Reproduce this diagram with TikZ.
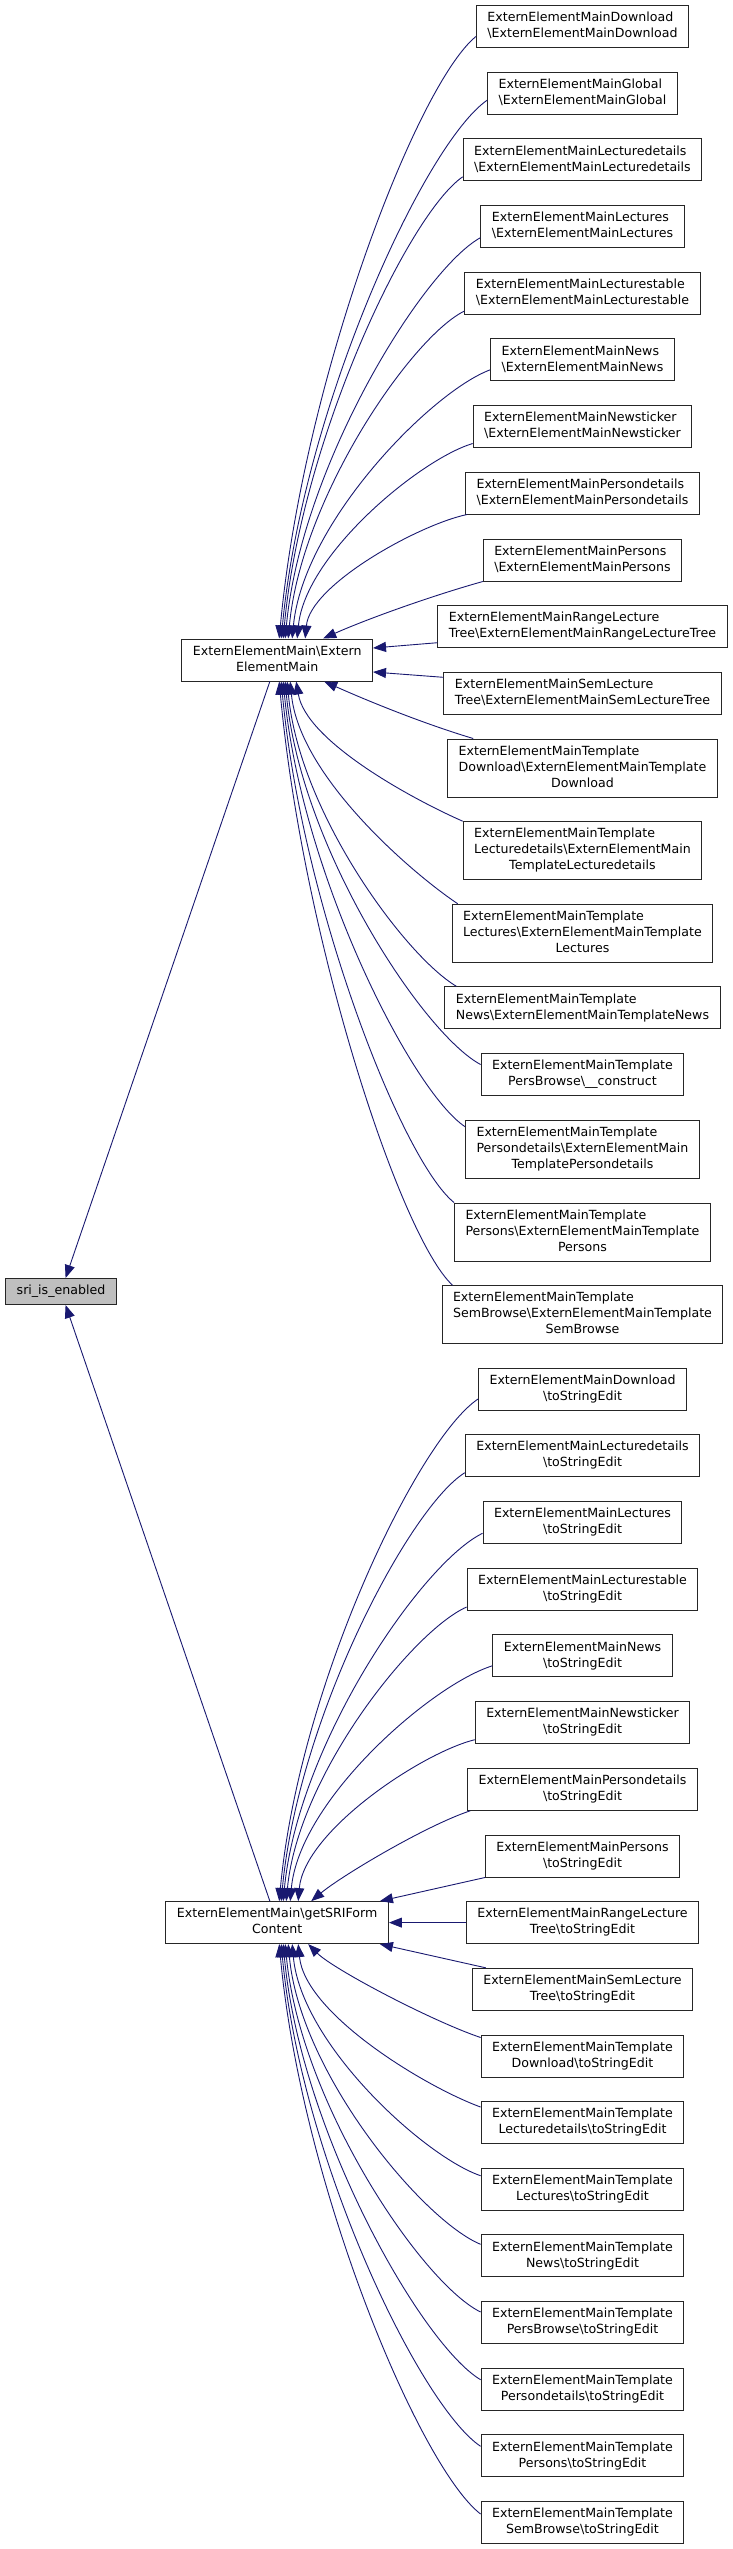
\documentclass[tikz,border=0pt]{standalone}
\usepackage{fontspec}
\setmainfont{DejaVu Sans}
\usepackage{xcolor}
\usepackage{tikz}
\usetikzlibrary{arrows.meta}
\definecolor{edgeblue}{RGB}{25,25,112}
\def\bs{\textbackslash}
\newcommand{\lbl}[2]{\begin{tabular}{@{}l@{}}#1\\\multicolumn{1}{@{}c@{}}{#2}\end{tabular}}

\begin{document}
\begin{tikzpicture}[x=1pt,y=1pt,
  box/.style={draw=black!85,line width=1pt,fill=white,inner xsep=11pt,inner ysep=5pt,font=\fontsize{12.6}{16}\selectfont},
  rootbox/.style={box,fill=black!25},
  edge/.style={edgeblue,line width=0.9pt,-{Triangle[length=13pt,width=10pt]}}]
\useasboundingbox (0,0) rectangle (733,-2549);
\node[rootbox] (sri) at (61,-1291.5) {sri\_is\_enabled\strut};
\node[box] (eem) at (277.2,-660) {\lbl{ExternElementMain\bs Extern}{ElementMain}};
\node[box] (gsri) at (277.2,-1922.6) {\lbl{ExternElementMain\bs getSRIForm}{Content}};

\node[box] (mDownload) at (582.5,-26.5) {\lbl{ExternElementMainDownload}{\bs ExternElementMainDownload}};
\node[box] (mGlobal) at (582.5,-93.2) {\lbl{ExternElementMainGlobal}{\bs ExternElementMainGlobal}};
\node[box] (mLecturedetails) at (582.5,-159.8) {\lbl{ExternElementMainLecturedetails}{\bs ExternElementMainLecturedetails}};
\node[box] (mLectures) at (582.5,-226.7) {\lbl{ExternElementMainLectures}{\bs ExternElementMainLectures}};
\node[box] (mLecturestable) at (582.5,-293) {\lbl{ExternElementMainLecturestable}{\bs ExternElementMainLecturestable}};
\node[box] (mNews) at (582.5,-359.8) {\lbl{ExternElementMainNews}{\bs ExternElementMainNews}};
\node[box] (mNewsticker) at (582.5,-426.5) {\lbl{ExternElementMainNewsticker}{\bs ExternElementMainNewsticker}};
\node[box] (mPersondetails) at (582.5,-493) {\lbl{ExternElementMainPersondetails}{\bs ExternElementMainPersondetails}};
\node[box] (mPersons) at (582.5,-560) {\lbl{ExternElementMainPersons}{\bs ExternElementMainPersons}};
\node[box] (mRange) at (582.5,-626.7) {\lbl{ExternElementMainRangeLecture}{Tree\bs ExternElementMainRangeLectureTree}};
\node[box] (mSem) at (582.5,-693.3) {\lbl{ExternElementMainSemLecture}{Tree\bs ExternElementMainSemLectureTree}};
\node[box] (mtDownload) at (582.5,-768) {\lbl{ExternElementMainTemplate\\Download\bs ExternElementMainTemplate}{Download}};
\node[box] (mtLecturedetails) at (582.5,-850.7) {\lbl{ExternElementMainTemplate\\Lecturedetails\bs ExternElementMain}{TemplateLecturedetails}};
\node[box] (mtLectures) at (582.5,-933.2) {\lbl{ExternElementMainTemplate\\Lectures\bs ExternElementMainTemplate}{Lectures}};
\node[box] (mtNews) at (582.5,-1007.8) {\lbl{ExternElementMainTemplate}{News\bs ExternElementMainTemplateNews}};
\node[box] (mtPersBrowse) at (582.5,-1074.5) {\lbl{ExternElementMainTemplate}{PersBrowse\bs\_\_construct}};
\node[box] (mtPersondetails) at (582.5,-1149.2) {\lbl{ExternElementMainTemplate\\Persondetails\bs ExternElementMain}{TemplatePersondetails}};
\node[box] (mtPersons) at (582.5,-1232) {\lbl{ExternElementMainTemplate\\Persons\bs ExternElementMainTemplate}{Persons}};
\node[box] (mtSemBrowse) at (582.5,-1314.7) {\lbl{ExternElementMainTemplate\\SemBrowse\bs ExternElementMainTemplate}{SemBrowse}};

\node[box] (sDownload) at (582.5,-1389) {\lbl{ExternElementMainDownload}{\bs toStringEdit}};
\node[box] (sLecturedetails) at (582.5,-1455.7) {\lbl{ExternElementMainLecturedetails}{\bs toStringEdit}};
\node[box] (sLectures) at (582.5,-1522.3) {\lbl{ExternElementMainLectures}{\bs toStringEdit}};
\node[box] (sLecturestable) at (582.5,-1589) {\lbl{ExternElementMainLecturestable}{\bs toStringEdit}};
\node[box] (sNews) at (582.5,-1655.8) {\lbl{ExternElementMainNews}{\bs toStringEdit}};
\node[box] (sNewsticker) at (582.5,-1722.7) {\lbl{ExternElementMainNewsticker}{\bs toStringEdit}};
\node[box] (sPersondetails) at (582.5,-1789.3) {\lbl{ExternElementMainPersondetails}{\bs toStringEdit}};
\node[box] (sPersons) at (582.5,-1856) {\lbl{ExternElementMainPersons}{\bs toStringEdit}};
\node[box] (sRange) at (582.5,-1922.6) {\lbl{ExternElementMainRangeLecture}{Tree\bs toStringEdit}};
\node[box] (sSem) at (582.5,-1989.3) {\lbl{ExternElementMainSemLecture}{Tree\bs toStringEdit}};
\node[box] (stDownload) at (582.5,-2056) {\lbl{ExternElementMainTemplate}{Download\bs toStringEdit}};
\node[box] (stLecturedetails) at (582.5,-2122.5) {\lbl{ExternElementMainTemplate}{Lecturedetails\bs toStringEdit}};
\node[box] (stLectures) at (582.5,-2189.2) {\lbl{ExternElementMainTemplate}{Lectures\bs toStringEdit}};
\node[box] (stNews) at (582.5,-2255.8) {\lbl{ExternElementMainTemplate}{News\bs toStringEdit}};
\node[box] (stPersBrowse) at (582.5,-2322.5) {\lbl{ExternElementMainTemplate}{PersBrowse\bs toStringEdit}};
\node[box] (stPersondetails) at (582.5,-2389.2) {\lbl{ExternElementMainTemplate}{Persondetails\bs toStringEdit}};
\node[box] (stPersons) at (582.5,-2455.8) {\lbl{ExternElementMainTemplate}{Persons\bs toStringEdit}};
\node[box] (stSemBrowse) at (582.5,-2522.5) {\lbl{ExternElementMainTemplate}{SemBrowse\bs toStringEdit}};

\draw[edge] (eem) -- (sri);
\draw[edge] (gsri) -- (sri);

\draw[edge] ([yshift=-10pt]mDownload.west) .. controls +(-59,-48) and +(24,259) .. ([xshift=2pt]eem.north);
\draw[edge] ([yshift=-7pt]mGlobal.west) .. controls +(-62,-43) and +(22,232) .. ([xshift=4pt]eem.north);
\draw[edge] ([yshift=-17pt]mLecturedetails.west) .. controls +(-54,-37) and +(18,199) .. ([xshift=6pt]eem.north);
\draw[edge] ([yshift=-11pt]mLectures.west) .. controls +(-58,-32) and +(16,172) .. ([xshift=8pt]eem.north);
\draw[edge] ([yshift=-18pt]mLecturestable.west) .. controls +(-53,-26) and +(13,141) .. ([xshift=11pt]eem.north);
\draw[edge] ([yshift=-10pt]mNews.west) .. controls +(-59,-22) and +(11,116) .. ([xshift=15pt]eem.north);
\draw[edge] ([yshift=-17pt]mNewsticker.west) .. controls +(-53,-16) and +(8,84) .. ([xshift=20pt]eem.north);
\draw[edge] ([xshift=2pt]mPersondetails.south west) .. controls +(-48,-10) and +(5,54) .. ([xshift=28pt]eem.north);
\draw[edge] (mPersons.south west) .. controls +(-50,-14) and +(45,20) .. ([xshift=46pt]eem.north);
\draw[edge] ([yshift=-16pt]mRange.west) -- ([yshift=12pt]eem.east);
\draw[edge] ([yshift=16pt]mSem.west) -- ([yshift=-12pt]eem.east);
\draw[edge] ([xshift=26pt]mtDownload.north west) .. controls +(-50,15) and +(45,-20) .. ([xshift=47pt]eem.south);
\draw[edge] (mtLecturedetails.north west) .. controls +(-50,22) and +(10,-60) .. ([xshift=19pt]eem.south);
\draw[edge] ([xshift=6pt]mtLectures.north west) .. controls +(-45,30) and +(9,-95) .. ([xshift=13pt]eem.south);
\draw[edge] ([xshift=12pt]mtNews.north west) .. controls +(-51,30) and +(12,-131) .. ([xshift=10pt]eem.south);
\draw[edge] ([yshift=10pt]mtPersBrowse.west) .. controls +(-58,31) and +(15,-165) .. ([xshift=8pt]eem.south);
\draw[edge] ([yshift=-7pt]mtPersondetails.north west) .. controls +(-54,36) and +(18,-191) .. ([xshift=6pt]eem.south);
\draw[edge] (mtPersons.north west) .. controls +(-52,42) and +(21,-224) .. ([xshift=4pt]eem.south);
\draw[edge] ([xshift=11pt]mtSemBrowse.north west) .. controls +(-52,48) and +(24,-260) .. ([xshift=2pt]eem.south);

\draw[edge] ([yshift=-10pt]sDownload.west) .. controls +(-60,-40) and +(20,216) .. ([xshift=2pt]gsri.north);
\draw[edge] ([yshift=-17pt]sLecturedetails.west) .. controls +(-55,-34) and +(17,184) .. ([xshift=4pt]gsri.north);
\draw[edge] ([yshift=-11pt]sLectures.west) .. controls +(-60,-29) and +(15,158) .. ([xshift=6pt]gsri.north);
\draw[edge] ([yshift=-18pt]sLecturestable.west) .. controls +(-54,-24) and +(12,126) .. ([xshift=9pt]gsri.north);
\draw[edge] ([yshift=-10pt]sNews.west) .. controls +(-61,-19) and +(9,101) .. ([xshift=13pt]gsri.north);
\draw[edge] ([yshift=-17pt]sNewsticker.west) .. controls +(-53,-13) and +(6,70) .. ([xshift=21pt]gsri.north);
\draw[edge] ([xshift=3pt]sPersondetails.south west) .. controls +(-45,-15) and +(30,25) .. ([xshift=34pt]gsri.north);
\draw[edge] (sPersons.south west) -- ([xshift=-9pt]gsri.north east);
\draw[edge] (sRange) -- (gsri);
\draw[edge] ([xshift=14pt]sSem.north west) -- ([xshift=-9pt]gsri.south east);
\draw[edge] ([yshift=-3pt]stDownload.north west) .. controls +(-50,17) and +(25,-25) .. ([xshift=31pt]gsri.south);
\draw[edge] ([yshift=-6pt]stLecturedetails.north west) .. controls +(-55,20) and +(7,-70) .. ([xshift=21pt]gsri.south);
\draw[edge] ([yshift=-8pt]stLectures.north west) .. controls +(-56,19) and +(9,-100) .. ([xshift=15pt]gsri.south);
\draw[edge] ([yshift=-10pt]stNews.north west) .. controls +(-58,24) and +(12,-129) .. ([xshift=11pt]gsri.south);
\draw[edge] ([yshift=-11pt]stPersBrowse.north west) .. controls +(-59,29) and +(15,-158) .. ([xshift=8pt]gsri.south);
\draw[edge] ([yshift=-12pt]stPersondetails.north west) .. controls +(-59,35) and +(17,-187) .. ([xshift=6pt]gsri.south);
\draw[edge] ([yshift=-12pt]stPersons.north west) .. controls +(-60,40) and +(20,-216) .. ([xshift=4pt]gsri.south);
\draw[edge] ([yshift=-13pt]stSemBrowse.north west) .. controls +(-60,46) and +(23,-245) .. ([xshift=2pt]gsri.south);
\end{tikzpicture}
\end{document}
